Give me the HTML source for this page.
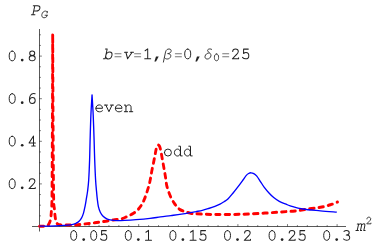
<!DOCTYPE html>
<html><head><meta charset="utf-8"><title>P_G vs m^2: even and odd</title><style>
html,body{margin:0;padding:0;background:#fff;}
svg{display:block;}
text{font-family:"Liberation Mono",monospace;font-size:16px;fill:#1a1a1a;}
.ax line{stroke:#111;stroke-width:0.7;}
.ax .tk line{stroke-width:0.55;}
text.gr{font-family:"Liberation Serif",serif;font-style:italic;font-size:17px;fill:#333;}
</style></head><body>
<svg width="382" height="246" viewBox="0 0 382 246" role="img" aria-label="Plot of P_G versus m^2 for b=v=1, beta=0, delta_0=25; even (blue solid) and odd (red dashed) curves">
<rect width="382" height="246" fill="#fff"/>
<g class="ax">
<line x1="39.50" y1="29" x2="39.50" y2="231.5"/>
<line x1="32" y1="226.50" x2="346" y2="226.50"/>
<g class="tk">
<line x1="49.42" y1="226.50" x2="49.42" y2="225.10"/>
<line x1="59.34" y1="226.50" x2="59.34" y2="225.10"/>
<line x1="69.26" y1="226.50" x2="69.26" y2="225.10"/>
<line x1="79.18" y1="226.50" x2="79.18" y2="225.10"/>
<line x1="89.10" y1="226.50" x2="89.10" y2="224.10"/>
<line x1="99.02" y1="226.50" x2="99.02" y2="225.10"/>
<line x1="108.94" y1="226.50" x2="108.94" y2="225.10"/>
<line x1="118.86" y1="226.50" x2="118.86" y2="225.10"/>
<line x1="128.78" y1="226.50" x2="128.78" y2="225.10"/>
<line x1="138.70" y1="226.50" x2="138.70" y2="224.10"/>
<line x1="148.62" y1="226.50" x2="148.62" y2="225.10"/>
<line x1="158.54" y1="226.50" x2="158.54" y2="225.10"/>
<line x1="168.46" y1="226.50" x2="168.46" y2="225.10"/>
<line x1="178.38" y1="226.50" x2="178.38" y2="225.10"/>
<line x1="188.30" y1="226.50" x2="188.30" y2="224.10"/>
<line x1="198.22" y1="226.50" x2="198.22" y2="225.10"/>
<line x1="208.14" y1="226.50" x2="208.14" y2="225.10"/>
<line x1="218.06" y1="226.50" x2="218.06" y2="225.10"/>
<line x1="227.98" y1="226.50" x2="227.98" y2="225.10"/>
<line x1="237.90" y1="226.50" x2="237.90" y2="224.10"/>
<line x1="247.82" y1="226.50" x2="247.82" y2="225.10"/>
<line x1="257.74" y1="226.50" x2="257.74" y2="225.10"/>
<line x1="267.66" y1="226.50" x2="267.66" y2="225.10"/>
<line x1="277.58" y1="226.50" x2="277.58" y2="225.10"/>
<line x1="287.50" y1="226.50" x2="287.50" y2="224.10"/>
<line x1="297.42" y1="226.50" x2="297.42" y2="225.10"/>
<line x1="307.34" y1="226.50" x2="307.34" y2="225.10"/>
<line x1="317.26" y1="226.50" x2="317.26" y2="225.10"/>
<line x1="327.18" y1="226.50" x2="327.18" y2="225.10"/>
<line x1="337.10" y1="226.50" x2="337.10" y2="224.10"/>
<line x1="39.50" y1="215.85" x2="40.90" y2="215.85"/>
<line x1="39.50" y1="205.20" x2="40.90" y2="205.20"/>
<line x1="39.50" y1="194.55" x2="40.90" y2="194.55"/>
<line x1="39.50" y1="183.90" x2="41.90" y2="183.90"/>
<line x1="39.50" y1="173.25" x2="40.90" y2="173.25"/>
<line x1="39.50" y1="162.60" x2="40.90" y2="162.60"/>
<line x1="39.50" y1="151.95" x2="40.90" y2="151.95"/>
<line x1="39.50" y1="141.30" x2="41.90" y2="141.30"/>
<line x1="39.50" y1="130.65" x2="40.90" y2="130.65"/>
<line x1="39.50" y1="120.00" x2="40.90" y2="120.00"/>
<line x1="39.50" y1="109.35" x2="40.90" y2="109.35"/>
<line x1="39.50" y1="98.70" x2="41.90" y2="98.70"/>
<line x1="39.50" y1="88.05" x2="40.90" y2="88.05"/>
<line x1="39.50" y1="77.40" x2="40.90" y2="77.40"/>
<line x1="39.50" y1="66.75" x2="40.90" y2="66.75"/>
<line x1="39.50" y1="56.10" x2="41.90" y2="56.10"/>
<line x1="39.50" y1="45.45" x2="40.90" y2="45.45"/>
<line x1="39.50" y1="34.80" x2="40.90" y2="34.80"/>
</g>
</g>
<g transform="scale(1 1.0410)"><path d="M39.50 217.39 C40.33 217.36 43.17 217.32 44.50 217.20 C45.83 217.07 46.75 216.99 47.50 216.62 C48.25 216.25 48.53 215.79 49.00 214.99 C49.47 214.19 49.97 213.06 50.30 211.82 C50.63 210.57 50.80 209.33 51.00 207.49 C51.20 205.65 51.33 204.13 51.50 200.77 C51.67 197.41 51.85 201.57 52.00 187.32 C52.15 173.07 52.28 141.06 52.40 115.27 C52.52 89.49 52.65 46.39 52.70 32.61 C52.76 46.39 52.90 89.49 53.05 115.27 C53.20 141.06 53.38 173.07 53.60 187.32 C53.83 201.57 54.13 197.25 54.40 200.77 C54.67 204.29 54.90 206.40 55.20 208.45 C55.50 210.50 55.80 211.94 56.20 213.06 C56.60 214.19 56.97 214.70 57.60 215.18 C58.23 215.66 58.27 215.79 60.00 215.95 C61.73 216.11 65.33 216.12 68.00 216.14 C70.67 216.15 73.12 216.22 76.00 216.04 C78.88 215.87 82.18 215.42 85.30 215.08 C88.42 214.75 91.58 214.41 94.70 214.02 C97.82 213.64 100.88 213.22 104.00 212.78 C107.12 212.33 110.42 211.78 113.40 211.34 C116.38 210.89 119.55 210.68 121.90 210.09 C124.25 209.49 125.63 208.61 127.50 207.78 C129.37 206.95 131.38 206.13 133.10 205.09 C134.82 204.05 136.40 202.90 137.80 201.54 C139.20 200.18 140.42 198.59 141.50 196.93 C142.58 195.26 143.43 193.50 144.30 191.55 C145.17 189.59 145.92 187.46 146.70 185.21 C147.48 182.95 148.38 180.21 149.00 178.00 C149.62 175.79 149.92 174.32 150.40 171.95 C150.88 169.58 151.35 166.52 151.90 163.78 C152.45 161.05 153.18 157.99 153.70 155.52 C154.22 153.06 154.58 151.04 155.00 148.99 C155.42 146.94 155.80 144.70 156.20 143.23 C156.60 141.75 157.03 140.81 157.40 140.15 C157.77 139.50 158.03 139.21 158.40 139.29 C158.77 139.37 159.20 139.71 159.60 140.63 C160.00 141.56 160.37 142.92 160.80 144.86 C161.23 146.80 161.73 149.79 162.20 152.26 C162.67 154.72 163.17 157.33 163.60 159.65 C164.03 161.98 164.43 164.14 164.80 166.19 C165.17 168.24 165.48 169.98 165.80 171.95 C166.12 173.92 166.17 175.79 166.70 178.00 C167.23 180.21 168.22 183.11 169.00 185.21 C169.78 187.30 170.53 188.94 171.40 190.59 C172.27 192.24 173.27 193.76 174.20 195.10 C175.13 196.45 176.03 197.61 177.00 198.66 C177.97 199.70 178.67 200.58 180.00 201.34 C181.33 202.11 183.33 202.71 185.00 203.27 C186.67 203.83 188.17 204.35 190.00 204.71 C191.83 205.06 191.83 205.16 196.00 205.38 C200.17 205.60 207.67 205.97 215.00 206.05 C222.33 206.13 231.67 206.08 240.00 205.86 C248.33 205.64 257.33 205.14 265.00 204.71 C272.67 204.27 281.00 203.60 286.00 203.27 C291.00 202.93 291.37 203.11 295.00 202.69 C298.63 202.27 303.57 201.36 307.80 200.77 C312.03 200.18 316.62 199.81 320.40 199.14 C324.18 198.46 327.65 197.58 330.50 196.73 C333.35 195.89 336.33 194.49 337.50 194.04" fill="none" stroke="#ff0000" stroke-width="2.85" stroke-dasharray="4.4 5.0" stroke-dashoffset="0.46" stroke-linecap="round" stroke-linejoin="round"/></g>
<path d="M39.50 226.20 C41.25 226.17 46.58 226.13 50.00 226.05 C53.42 225.97 57.00 225.86 60.00 225.70 C63.00 225.54 65.83 225.33 68.00 225.10 C70.17 224.87 71.67 224.60 73.00 224.30 C74.33 224.00 75.03 223.77 76.00 223.30 C76.97 222.83 77.87 222.42 78.80 221.50 C79.73 220.58 80.82 219.20 81.60 217.80 C82.38 216.40 82.93 214.97 83.50 213.10 C84.07 211.23 84.53 208.93 85.00 206.60 C85.47 204.27 85.87 201.70 86.30 199.10 C86.73 196.50 87.20 194.18 87.60 191.00 C88.00 187.82 88.37 185.17 88.70 180.00 C89.03 174.83 89.37 166.67 89.60 160.00 C89.83 153.33 89.88 147.50 90.10 140.00 C90.32 132.50 90.58 122.52 90.90 115.00 C91.23 107.48 91.86 98.25 92.05 94.90 C92.24 98.25 92.86 107.48 93.20 115.00 C93.54 122.52 93.85 132.50 94.10 140.00 C94.35 147.50 94.45 153.33 94.70 160.00 C94.95 166.67 95.30 174.83 95.60 180.00 C95.90 185.17 96.22 187.82 96.50 191.00 C96.78 194.18 96.98 196.50 97.30 199.10 C97.62 201.70 97.90 204.42 98.40 206.60 C98.90 208.78 99.52 210.58 100.30 212.20 C101.08 213.82 102.02 215.18 103.10 216.30 C104.18 217.42 105.40 218.25 106.80 218.90 C108.20 219.55 109.78 219.92 111.50 220.20 C113.22 220.48 114.92 220.57 117.10 220.60 C119.28 220.63 121.45 220.55 124.60 220.40 C127.75 220.25 131.77 220.03 136.00 219.70 C140.23 219.37 145.92 218.87 150.00 218.40 C154.08 217.93 157.02 217.37 160.50 216.90 C163.98 216.43 167.42 216.05 170.90 215.60 C174.38 215.15 177.90 214.73 181.40 214.20 C184.90 213.67 189.47 212.83 191.90 212.40 C194.33 211.97 194.27 211.93 196.00 211.60 C197.73 211.27 200.20 210.92 202.30 210.40 C204.40 209.88 206.50 209.18 208.60 208.50 C210.70 207.82 213.00 207.03 214.90 206.30 C216.80 205.57 218.48 204.87 220.00 204.10 C221.52 203.33 222.68 202.55 224.00 201.70 C225.32 200.85 226.42 200.42 227.90 199.00 C229.38 197.58 231.23 195.22 232.90 193.20 C234.57 191.18 236.22 189.10 237.90 186.90 C239.58 184.70 241.63 181.88 243.00 180.00 C244.37 178.12 245.17 176.68 246.10 175.60 C247.03 174.52 247.78 173.97 248.60 173.50 C249.42 173.03 250.13 172.78 251.00 172.80 C251.87 172.82 252.83 173.05 253.80 173.60 C254.77 174.15 255.67 174.73 256.80 176.10 C257.93 177.47 259.35 179.92 260.60 181.80 C261.85 183.68 262.90 185.53 264.30 187.40 C265.70 189.27 267.43 191.30 269.00 193.00 C270.57 194.70 271.98 196.20 273.70 197.60 C275.42 199.00 277.25 200.30 279.30 201.40 C281.35 202.50 284.18 203.47 286.00 204.20 C287.82 204.93 287.42 205.00 290.20 205.80 C292.98 206.60 297.67 208.17 302.70 209.00 C307.73 209.83 314.72 210.28 320.40 210.80 C326.08 211.32 334.07 211.88 336.80 212.10" fill="none" stroke="#0000ff" stroke-width="1.35" stroke-linejoin="round"/>
<path transform="translate(68.70 240.80)" d="M5 -10.3 C7.2 -10.3 8 -7.9 8 -5.4 C8 -2.8 7.2 -0.45 5 -0.45 C2.8 -0.45 2 -2.8 2 -5.4 C2 -7.9 2.8 -10.3 5 -10.3" fill="none" stroke="#222" stroke-width="1.00" stroke-linecap="round" stroke-linejoin="round"/>
<circle transform="translate(78.70 240.80)" cx="5" cy="-1.25" r="1.35" fill="#222"/>
<path transform="translate(88.70 240.80)" d="M5 -10.3 C7.2 -10.3 8 -7.9 8 -5.4 C8 -2.8 7.2 -0.45 5 -0.45 C2.8 -0.45 2 -2.8 2 -5.4 C2 -7.9 2.8 -10.3 5 -10.3" fill="none" stroke="#222" stroke-width="1.00" stroke-linecap="round" stroke-linejoin="round"/>
<path transform="translate(98.70 240.80) scale(1 1.05)" d="M7.6 -9.7 L2.9 -9.7 L2.9 -5.5 C3.6 -6.2 4.5 -6.5 5.3 -6.5 C7 -6.5 8.1 -5.2 8.1 -3.5 C8.1 -1.7 6.8 -0.45 5 -0.45 C3.6 -0.45 2.5 -1 1.8 -1.9" fill="none" stroke="#222" stroke-width="1.00" stroke-linecap="round" stroke-linejoin="round"/>
<path transform="translate(123.30 240.80)" d="M5 -10.3 C7.2 -10.3 8 -7.9 8 -5.4 C8 -2.8 7.2 -0.45 5 -0.45 C2.8 -0.45 2 -2.8 2 -5.4 C2 -7.9 2.8 -10.3 5 -10.3" fill="none" stroke="#222" stroke-width="1.00" stroke-linecap="round" stroke-linejoin="round"/>
<circle transform="translate(133.30 240.80)" cx="5" cy="-1.25" r="1.35" fill="#222"/>
<path transform="translate(143.30 240.80) scale(1 1.05)" d="M2.6 -8.2 L5.2 -9.9 L5.2 -0.5 M2.2 -0.5 L8.2 -0.5" fill="none" stroke="#222" stroke-width="1.00" stroke-linecap="round" stroke-linejoin="round"/>
<path transform="translate(167.90 240.80)" d="M5 -10.3 C7.2 -10.3 8 -7.9 8 -5.4 C8 -2.8 7.2 -0.45 5 -0.45 C2.8 -0.45 2 -2.8 2 -5.4 C2 -7.9 2.8 -10.3 5 -10.3" fill="none" stroke="#222" stroke-width="1.00" stroke-linecap="round" stroke-linejoin="round"/>
<circle transform="translate(177.90 240.80)" cx="5" cy="-1.25" r="1.35" fill="#222"/>
<path transform="translate(187.90 240.80) scale(1 1.05)" d="M2.6 -8.2 L5.2 -9.9 L5.2 -0.5 M2.2 -0.5 L8.2 -0.5" fill="none" stroke="#222" stroke-width="1.00" stroke-linecap="round" stroke-linejoin="round"/>
<path transform="translate(197.90 240.80) scale(1 1.05)" d="M7.6 -9.7 L2.9 -9.7 L2.9 -5.5 C3.6 -6.2 4.5 -6.5 5.3 -6.5 C7 -6.5 8.1 -5.2 8.1 -3.5 C8.1 -1.7 6.8 -0.45 5 -0.45 C3.6 -0.45 2.5 -1 1.8 -1.9" fill="none" stroke="#222" stroke-width="1.00" stroke-linecap="round" stroke-linejoin="round"/>
<path transform="translate(222.50 240.80)" d="M5 -10.3 C7.2 -10.3 8 -7.9 8 -5.4 C8 -2.8 7.2 -0.45 5 -0.45 C2.8 -0.45 2 -2.8 2 -5.4 C2 -7.9 2.8 -10.3 5 -10.3" fill="none" stroke="#222" stroke-width="1.00" stroke-linecap="round" stroke-linejoin="round"/>
<circle transform="translate(232.50 240.80)" cx="5" cy="-1.25" r="1.35" fill="#222"/>
<path transform="translate(242.50 240.80) scale(1 1.05)" d="M2.1 -7.4 C2.1 -9 3.4 -9.85 4.9 -9.85 C6.5 -9.85 7.7 -8.8 7.7 -7.4 C7.7 -6 6.8 -5.2 5.5 -4.1 L1.8 -0.5 L8 -0.5 L8 -1.5" fill="none" stroke="#222" stroke-width="1.00" stroke-linecap="round" stroke-linejoin="round"/>
<path transform="translate(267.10 240.80)" d="M5 -10.3 C7.2 -10.3 8 -7.9 8 -5.4 C8 -2.8 7.2 -0.45 5 -0.45 C2.8 -0.45 2 -2.8 2 -5.4 C2 -7.9 2.8 -10.3 5 -10.3" fill="none" stroke="#222" stroke-width="1.00" stroke-linecap="round" stroke-linejoin="round"/>
<circle transform="translate(277.10 240.80)" cx="5" cy="-1.25" r="1.35" fill="#222"/>
<path transform="translate(287.10 240.80) scale(1 1.05)" d="M2.1 -7.4 C2.1 -9 3.4 -9.85 4.9 -9.85 C6.5 -9.85 7.7 -8.8 7.7 -7.4 C7.7 -6 6.8 -5.2 5.5 -4.1 L1.8 -0.5 L8 -0.5 L8 -1.5" fill="none" stroke="#222" stroke-width="1.00" stroke-linecap="round" stroke-linejoin="round"/>
<path transform="translate(297.10 240.80) scale(1 1.05)" d="M7.6 -9.7 L2.9 -9.7 L2.9 -5.5 C3.6 -6.2 4.5 -6.5 5.3 -6.5 C7 -6.5 8.1 -5.2 8.1 -3.5 C8.1 -1.7 6.8 -0.45 5 -0.45 C3.6 -0.45 2.5 -1 1.8 -1.9" fill="none" stroke="#222" stroke-width="1.00" stroke-linecap="round" stroke-linejoin="round"/>
<path transform="translate(321.70 240.80)" d="M5 -10.3 C7.2 -10.3 8 -7.9 8 -5.4 C8 -2.8 7.2 -0.45 5 -0.45 C2.8 -0.45 2 -2.8 2 -5.4 C2 -7.9 2.8 -10.3 5 -10.3" fill="none" stroke="#222" stroke-width="1.00" stroke-linecap="round" stroke-linejoin="round"/>
<circle transform="translate(331.70 240.80)" cx="5" cy="-1.25" r="1.35" fill="#222"/>
<path transform="translate(341.70 240.80) scale(1 1.05)" d="M2.3 -8.9 C3 -9.6 3.9 -9.85 4.9 -9.85 C6.4 -9.85 7.5 -9 7.5 -7.7 C7.5 -6.3 6.3 -5.5 4.6 -5.5 C6.6 -5.5 8 -4.6 8 -3 C8 -1.4 6.7 -0.45 4.9 -0.45 C3.6 -0.45 2.5 -0.9 1.8 -1.7" fill="none" stroke="#222" stroke-width="1.00" stroke-linecap="round" stroke-linejoin="round"/>
<path transform="translate(7.20 189.10)" d="M5 -10.3 C7.2 -10.3 8 -7.9 8 -5.4 C8 -2.8 7.2 -0.45 5 -0.45 C2.8 -0.45 2 -2.8 2 -5.4 C2 -7.9 2.8 -10.3 5 -10.3" fill="none" stroke="#222" stroke-width="1.00" stroke-linecap="round" stroke-linejoin="round"/>
<circle transform="translate(17.20 189.10)" cx="5" cy="-1.25" r="1.35" fill="#222"/>
<path transform="translate(27.20 189.10) scale(1 1.05)" d="M2.1 -7.4 C2.1 -9 3.4 -9.85 4.9 -9.85 C6.5 -9.85 7.7 -8.8 7.7 -7.4 C7.7 -6 6.8 -5.2 5.5 -4.1 L1.8 -0.5 L8 -0.5 L8 -1.5" fill="none" stroke="#222" stroke-width="1.00" stroke-linecap="round" stroke-linejoin="round"/>
<path transform="translate(7.20 146.50)" d="M5 -10.3 C7.2 -10.3 8 -7.9 8 -5.4 C8 -2.8 7.2 -0.45 5 -0.45 C2.8 -0.45 2 -2.8 2 -5.4 C2 -7.9 2.8 -10.3 5 -10.3" fill="none" stroke="#222" stroke-width="1.00" stroke-linecap="round" stroke-linejoin="round"/>
<circle transform="translate(17.20 146.50)" cx="5" cy="-1.25" r="1.35" fill="#222"/>
<path transform="translate(27.20 146.50) scale(1 1.05)" d="M6.3 -0.5 L6.3 -9.9 L1.8 -3.4 L8.2 -3.4 M4.5 -0.5 L8 -0.5" fill="none" stroke="#222" stroke-width="1.00" stroke-linecap="round" stroke-linejoin="round"/>
<path transform="translate(7.20 103.90)" d="M5 -10.3 C7.2 -10.3 8 -7.9 8 -5.4 C8 -2.8 7.2 -0.45 5 -0.45 C2.8 -0.45 2 -2.8 2 -5.4 C2 -7.9 2.8 -10.3 5 -10.3" fill="none" stroke="#222" stroke-width="1.00" stroke-linecap="round" stroke-linejoin="round"/>
<circle transform="translate(17.20 103.90)" cx="5" cy="-1.25" r="1.35" fill="#222"/>
<path transform="translate(27.20 103.90) scale(1 1.05)" d="M7.9 -9.6 C7.3 -9.8 6.8 -9.85 6.3 -9.85 C3.7 -9.85 2.2 -7.3 2.2 -4 C2.2 -1.7 3.4 -0.45 5.1 -0.45 C6.8 -0.45 8 -1.7 8 -3.3 C8 -5 6.9 -6.1 5.3 -6.1 C3.8 -6.1 2.6 -5 2.3 -3.5" fill="none" stroke="#222" stroke-width="1.00" stroke-linecap="round" stroke-linejoin="round"/>
<path transform="translate(7.20 61.30)" d="M5 -10.3 C7.2 -10.3 8 -7.9 8 -5.4 C8 -2.8 7.2 -0.45 5 -0.45 C2.8 -0.45 2 -2.8 2 -5.4 C2 -7.9 2.8 -10.3 5 -10.3" fill="none" stroke="#222" stroke-width="1.00" stroke-linecap="round" stroke-linejoin="round"/>
<circle transform="translate(17.20 61.30)" cx="5" cy="-1.25" r="1.35" fill="#222"/>
<path transform="translate(27.20 61.30) scale(1 1.05)" d="M5 -9.85 C6.5 -9.85 7.5 -8.9 7.5 -7.6 C7.5 -6.3 6.5 -5.4 5 -5.4 C3.5 -5.4 2.5 -6.3 2.5 -7.6 C2.5 -8.9 3.5 -9.85 5 -9.85 Z M5 -5.4 C6.8 -5.4 8 -4.4 8 -2.9 C8 -1.4 6.8 -0.45 5 -0.45 C3.2 -0.45 2 -1.4 2 -2.9 C2 -4.4 3.2 -5.4 5 -5.4 Z" fill="none" stroke="#222" stroke-width="1.00" stroke-linecap="round" stroke-linejoin="round"/>
<path transform="translate(94.20 112.20)" d="M1.7 -3.9 L8.3 -3.9 C8.3 -6 6.9 -7.3 5 -7.3 C3.1 -7.3 1.7 -5.8 1.7 -3.8 C1.7 -1.7 3.1 -0.4 5.2 -0.4 C6.6 -0.4 7.6 -0.8 8.3 -1.5" fill="none" stroke="#222" stroke-width="1.00" stroke-linecap="round" stroke-linejoin="round"/>
<path transform="translate(103.95 112.20)" d="M0.5 -7.1 L3.5 -7.1 M6.5 -7.1 L9.5 -7.1 M1.9 -7.1 L5 -0.5 L8.1 -7.1" fill="none" stroke="#222" stroke-width="1.00" stroke-linecap="round" stroke-linejoin="round"/>
<path transform="translate(113.70 112.20)" d="M1.7 -3.9 L8.3 -3.9 C8.3 -6 6.9 -7.3 5 -7.3 C3.1 -7.3 1.7 -5.8 1.7 -3.8 C1.7 -1.7 3.1 -0.4 5.2 -0.4 C6.6 -0.4 7.6 -0.8 8.3 -1.5" fill="none" stroke="#222" stroke-width="1.00" stroke-linecap="round" stroke-linejoin="round"/>
<path transform="translate(123.45 112.20)" d="M0.9 -7.1 L2.5 -7.1 L2.5 -0.5 M0.9 -0.5 L4.2 -0.5 M2.5 -5.6 C3.4 -6.8 4.4 -7.3 5.5 -7.3 C6.9 -7.3 7.6 -6.5 7.6 -5 L7.6 -0.5 M6 -0.5 L9.3 -0.5" fill="none" stroke="#222" stroke-width="1.00" stroke-linecap="round" stroke-linejoin="round"/>
<path transform="translate(162.90 156.40)" d="M1.5 -3.85 A3.5 3.5 0 1 1 8.5 -3.85 A3.5 3.5 0 1 1 1.5 -3.85 Z" fill="none" stroke="#222" stroke-width="1.00" stroke-linecap="round" stroke-linejoin="round"/>
<path transform="translate(172.90 156.40)" d="M5.9 -10.2 L7.6 -10.2 L7.6 -0.5 L9.3 -0.5 M7.6 -3.85 C7.6 -1.9 6.4 -0.4 4.6 -0.4 C2.8 -0.4 1.5 -1.9 1.5 -3.85 C1.5 -5.8 2.8 -7.3 4.6 -7.3 C6.4 -7.3 7.6 -5.8 7.6 -3.85" fill="none" stroke="#222" stroke-width="1.00" stroke-linecap="round" stroke-linejoin="round"/>
<path transform="translate(182.90 156.40)" d="M5.9 -10.2 L7.6 -10.2 L7.6 -0.5 L9.3 -0.5 M7.6 -3.85 C7.6 -1.9 6.4 -0.4 4.6 -0.4 C2.8 -0.4 1.5 -1.9 1.5 -3.85 C1.5 -5.8 2.8 -7.3 4.6 -7.3 C6.4 -7.3 7.6 -5.8 7.6 -3.85" fill="none" stroke="#222" stroke-width="1.00" stroke-linecap="round" stroke-linejoin="round"/>
<path transform="translate(102.50 59.30) skewX(-12)" d="M0.8 -10.2 L2.5 -10.2 L2.5 -0.5 L0.8 -0.5 M2.5 -3.85 C2.5 -1.9 3.7 -0.4 5.5 -0.4 C7.3 -0.4 8.6 -1.9 8.6 -3.85 C8.6 -5.8 7.3 -7.3 5.5 -7.3 C3.7 -7.3 2.5 -5.8 2.5 -3.85" fill="none" stroke="#222" stroke-width="1.00" stroke-linecap="round" stroke-linejoin="round"/>
<path transform="translate(113.50 59.70)" d="M1.5 -6 L7.5 -6 M1.5 -3 L7.5 -3" fill="none" stroke="#777" stroke-width="1.15" stroke-linecap="round" stroke-linejoin="round"/>
<path transform="translate(122.50 59.30) skewX(-12)" d="M0.5 -7.1 L3.5 -7.1 M6.5 -7.1 L9.5 -7.1 M1.9 -7.1 L5 -0.5 L8.1 -7.1" fill="none" stroke="#222" stroke-width="1.00" stroke-linecap="round" stroke-linejoin="round"/>
<path transform="translate(133.10 59.70)" d="M1.5 -6 L7.5 -6 M1.5 -3 L7.5 -3" fill="none" stroke="#777" stroke-width="1.15" stroke-linecap="round" stroke-linejoin="round"/>
<path transform="translate(142.50 59.30) scale(1 1.05)" d="M2.6 -8.2 L5.2 -9.9 L5.2 -0.5 M2.2 -0.5 L8.2 -0.5" fill="none" stroke="#222" stroke-width="1.00" stroke-linecap="round" stroke-linejoin="round"/>
<path transform="translate(151.50 59.30)" d="M4.5 -2.9 L7.2 -2.9 L4.5 2.3 L2.9 2.3 Z" fill="#222"/>
<path transform="translate(162.80 59.30) skewX(-12)" d="M1.2 2.8 L1.2 -7.4 C1.2 -9.3 2.4 -10.3 4 -10.3 C5.6 -10.3 6.6 -9.4 6.6 -8 C6.6 -6.6 5.6 -5.8 3.6 -5.7 C6 -5.6 7.3 -4.6 7.3 -3 C7.3 -1.3 6 -0.3 4.3 -0.3 C3 -0.3 1.9 -0.9 1.2 -1.9" fill="none" stroke="#333" stroke-width="0.90" stroke-linecap="round" stroke-linejoin="round"/>
<path transform="translate(173.90 59.70)" d="M1.5 -6 L7.5 -6 M1.5 -3 L7.5 -3" fill="none" stroke="#777" stroke-width="1.15" stroke-linecap="round" stroke-linejoin="round"/>
<path transform="translate(182.70 59.30)" d="M5 -10.3 C7.2 -10.3 8 -7.9 8 -5.4 C8 -2.8 7.2 -0.45 5 -0.45 C2.8 -0.45 2 -2.8 2 -5.4 C2 -7.9 2.8 -10.3 5 -10.3" fill="none" stroke="#222" stroke-width="1.00" stroke-linecap="round" stroke-linejoin="round"/>
<path transform="translate(192.50 59.30)" d="M4.5 -2.9 L7.2 -2.9 L4.5 2.3 L2.9 2.3 Z" fill="#222"/>
<path transform="translate(203.20 59.30) skewX(-12)" d="M6.3 -10 C5.3 -10.6 3.2 -10.6 2.6 -9.6 C2 -8.5 3.5 -7.6 5 -6.4 C6.3 -5.4 7 -4.5 7 -3.4 C7 -1.6 5.8 -0.3 4 -0.3 C2.3 -0.3 1.2 -1.5 1.2 -3.1 C1.2 -4.9 2.6 -6.3 4.6 -6.5" fill="none" stroke="#333" stroke-width="0.90" stroke-linecap="round" stroke-linejoin="round"/>
<path transform="translate(213.00 61.10) scale(0.700)" d="M5 -10.3 C7.2 -10.3 8 -7.9 8 -5.4 C8 -2.8 7.2 -0.45 5 -0.45 C2.8 -0.45 2 -2.8 2 -5.4 C2 -7.9 2.8 -10.3 5 -10.3" fill="none" stroke="#222" stroke-width="1.21" stroke-linecap="round" stroke-linejoin="round"/>
<path transform="translate(221.20 59.70)" d="M1.5 -6 L7.5 -6 M1.5 -3 L7.5 -3" fill="none" stroke="#777" stroke-width="1.15" stroke-linecap="round" stroke-linejoin="round"/>
<path transform="translate(230.60 59.30) scale(1 1.05)" d="M2.1 -7.4 C2.1 -9 3.4 -9.85 4.9 -9.85 C6.5 -9.85 7.7 -8.8 7.7 -7.4 C7.7 -6 6.8 -5.2 5.5 -4.1 L1.8 -0.5 L8 -0.5 L8 -1.5" fill="none" stroke="#222" stroke-width="1.00" stroke-linecap="round" stroke-linejoin="round"/>
<path transform="translate(240.70 59.30) scale(1 1.05)" d="M7.6 -9.7 L2.9 -9.7 L2.9 -5.5 C3.6 -6.2 4.5 -6.5 5.3 -6.5 C7 -6.5 8.1 -5.2 8.1 -3.5 C8.1 -1.7 6.8 -0.45 5 -0.45 C3.6 -0.45 2.5 -1 1.8 -1.9" fill="none" stroke="#222" stroke-width="1.00" stroke-linecap="round" stroke-linejoin="round"/>
<path transform="translate(29.80 15.20) skewX(-12)" d="M1.5 -0.5 L5 -0.5 M3 -0.5 L3 -9.4 M1.5 -9.4 L5.6 -9.4 C7.4 -9.4 8.6 -8.4 8.6 -6.8 C8.6 -5.2 7.4 -4.2 5.6 -4.2 L3 -4.2" fill="none" stroke="#222" stroke-width="1.00" stroke-linecap="round" stroke-linejoin="round"/>
<path transform="translate(40.20 18.00) scale(0.720) skewX(-12)" d="M8 -7 L8 -9.2 M8 -8.2 C7.3 -9.1 6.3 -9.6 5.1 -9.6 C2.9 -9.6 1.3 -7.7 1.3 -4.9 C1.3 -2.2 2.9 -0.3 5.2 -0.3 C6.5 -0.3 7.6 -0.8 8.5 -1.6 L8.5 -3.8 M6 -3.8 L9.3 -3.8" fill="none" stroke="#222" stroke-width="1.11" stroke-linecap="round" stroke-linejoin="round"/>
<path transform="translate(355.50 231.00) skewX(-12)" d="M0.3 -7.1 L1.6 -7.1 L1.6 -0.5 M0.3 -0.5 L2.8 -0.5 M1.6 -6 C2.1 -6.9 2.7 -7.3 3.4 -7.3 C4.4 -7.3 4.9 -6.6 4.9 -5.4 L4.9 -0.5 L6 -0.5 M4.9 -6 C5.4 -6.9 6 -7.3 6.7 -7.3 C7.7 -7.3 8.2 -6.6 8.2 -5.4 L8.2 -0.5 L9.5 -0.5" fill="none" stroke="#222" stroke-width="1.00" stroke-linecap="round" stroke-linejoin="round"/>
<path transform="translate(365.50 224.20) scale(0.680) scale(1 1.05)" d="M2.1 -7.4 C2.1 -9 3.4 -9.85 4.9 -9.85 C6.5 -9.85 7.7 -8.8 7.7 -7.4 C7.7 -6 6.8 -5.2 5.5 -4.1 L1.8 -0.5 L8 -0.5 L8 -1.5" fill="none" stroke="#222" stroke-width="1.25" stroke-linecap="round" stroke-linejoin="round"/>
</svg>
</body></html>
